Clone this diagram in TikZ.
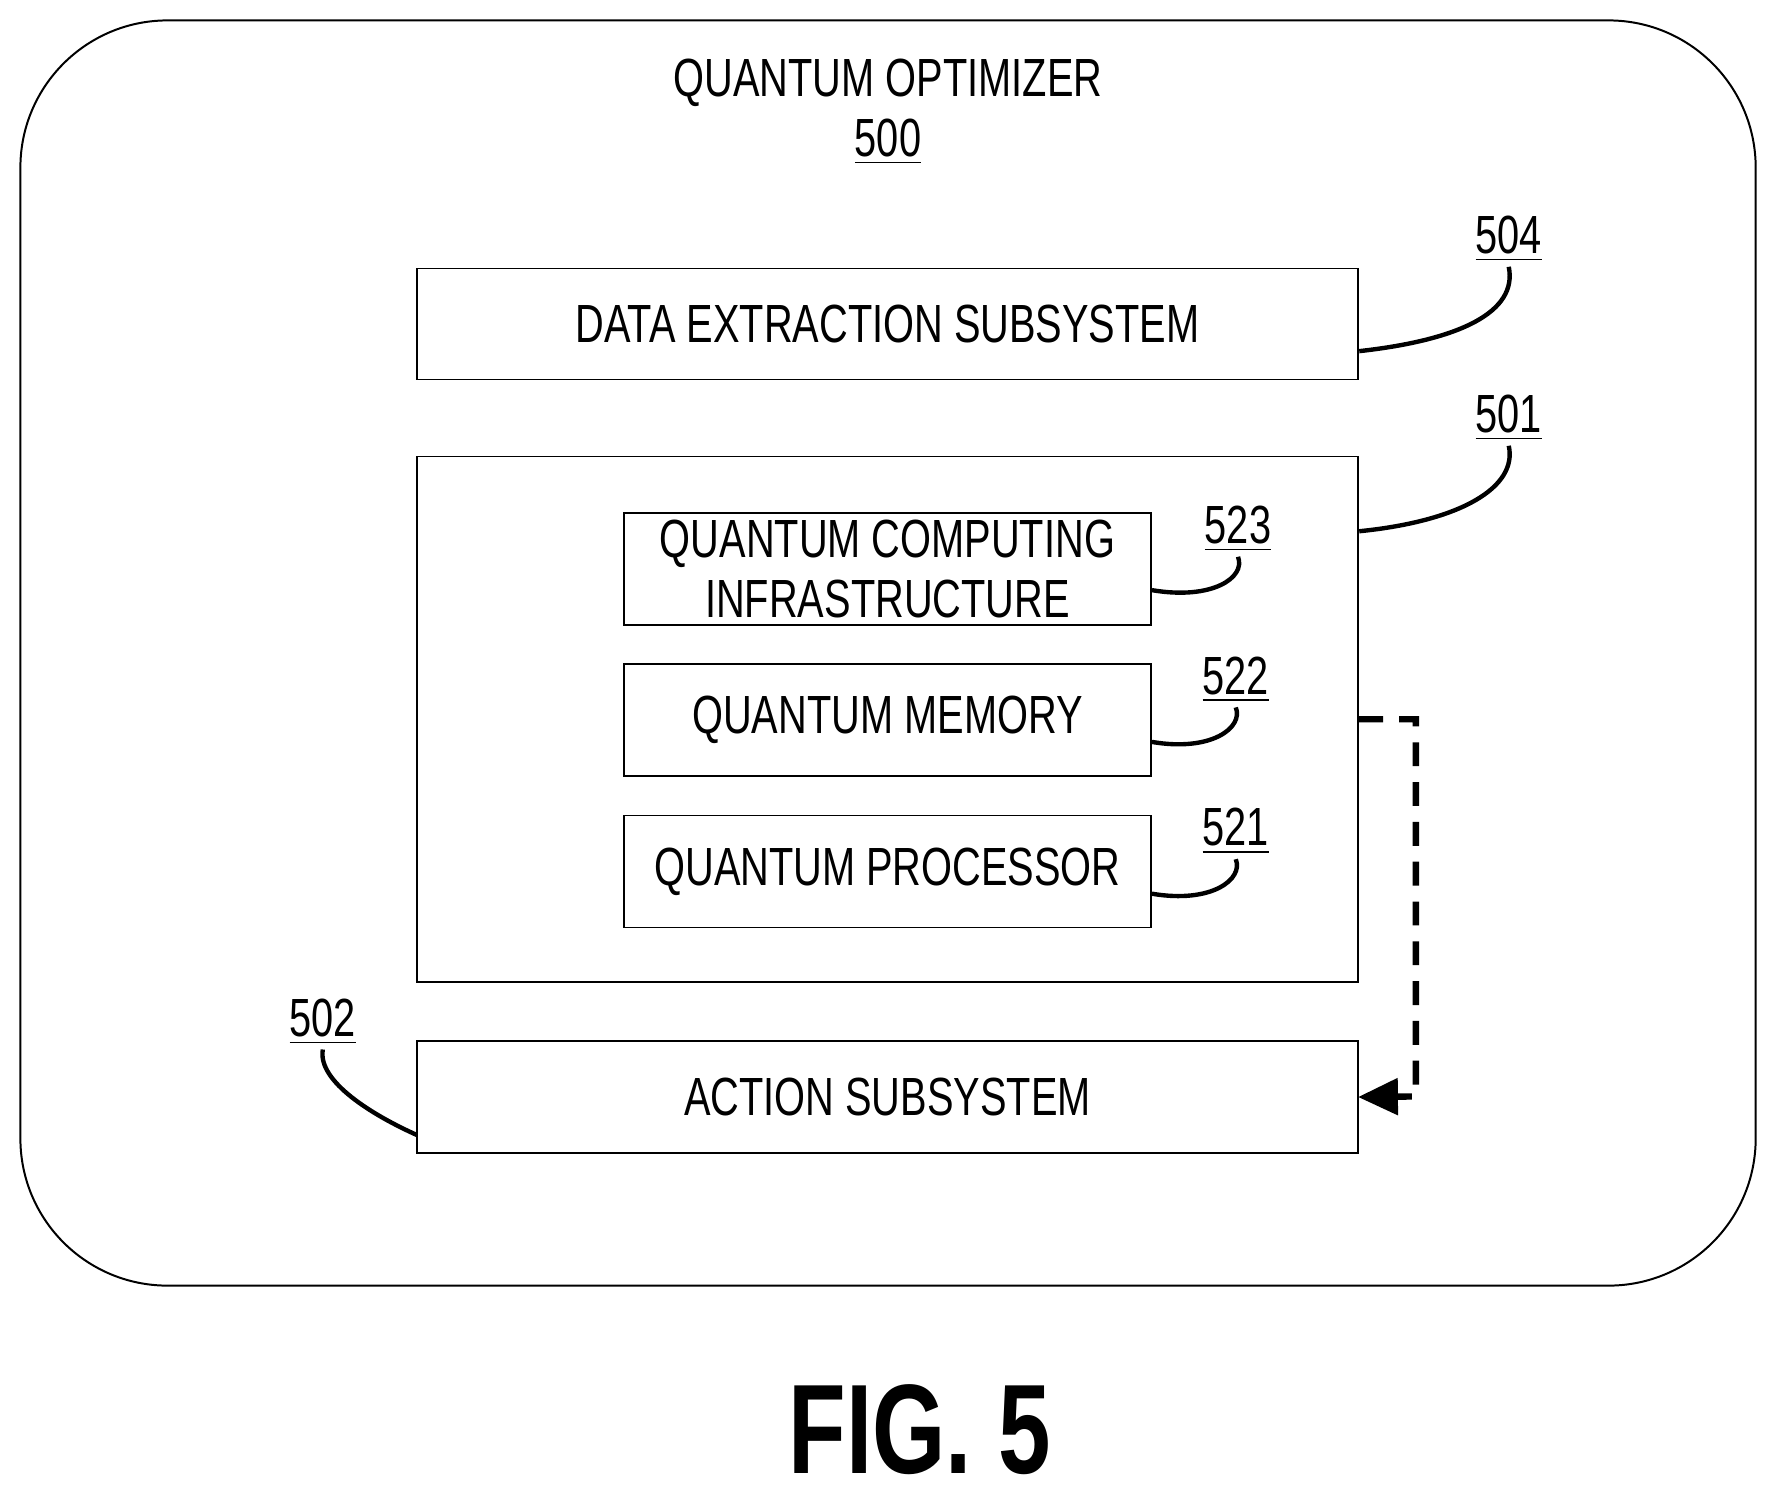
\documentclass[tikz,border=0pt]{standalone}
\usepackage{fontspec}
\setmainfont{Liberation Sans}[FakeStretch=0.74]
\usetikzlibrary{arrows.meta}
\begin{document}
\begin{tikzpicture}[x=0.1mm,y=-0.1mm,
  box/.style={draw,line width=0.4pt,inner sep=0pt,outer sep=0pt,font=\fontsize{13.5}{15}\selectfont,align=center},
  lbl/.style={font=\fontsize{13.5}{16}\selectfont,inner sep=1pt},
  lead/.style={line width=1.1pt}]
\useasboundingbox (0,0) rectangle (1560,1320);
\draw[line width=0.5pt,rounded corners=13mm] (18,18) rectangle (1550,1135);
\node[lbl,align=center,font=\fontsize{13.5}{15}\selectfont] (title) at (784,99) {QUANTUM OPTIMIZER\\\underline{500}};
\node[box,anchor=north west,minimum width=83.1mm,minimum height=9.8mm] (des) at (368,237) {DATA EXTRACTION SUBSYSTEM};
\node[box,anchor=north west,minimum width=83.1mm,minimum height=46.4mm] (big) at (368,403) {};
\node[box,anchor=north west,minimum width=46.5mm,minimum height=9.9mm] (qci) at (551,453) {QUANTUM COMPUTING\\INFRASTRUCTURE};
\node[box,anchor=north west,minimum width=46.5mm,minimum height=9.9mm] (qm) at (551,586) {QUANTUM MEMORY};
\node[box,anchor=north west,minimum width=46.5mm,minimum height=9.9mm] (qp) at (551,720) {QUANTUM PROCESSOR};
\node[box,anchor=north west,minimum width=83.1mm,minimum height=9.9mm] (act) at (368,919) {ACTION SUBSYSTEM};
\node[lbl] (l504) at (1332,211) {\underline{504}};
\node[lbl] (l501) at (1332,369) {\underline{501}};
\node[lbl] (l523) at (1093,467) {\underline{523}};
\node[lbl] (l522) at (1091,600) {\underline{522}};
\node[lbl] (l521) at (1091,734) {\underline{521}};
\node[lbl] (l502) at (285,902) {\underline{502}};
\coordinate (a504) at (1200,310); \coordinate (a501) at (1200,469);
\coordinate (a523) at (1017,521); \coordinate (a522) at (1017,655);
\coordinate (a521) at (1017,789); \coordinate (a502) at (368,1002);
\draw[lead] (a504) .. controls (1290,300) and (1340,275) .. (l504.south);
\draw[lead] (a501) .. controls (1290,460) and (1340,430) .. (l501.south);
\draw[lead] (a523) .. controls (1070,530) and (1100,510) .. (l523.south);
\draw[lead] (a522) .. controls (1070,664) and (1098,642) .. (l522.south);
\draw[lead] (a521) .. controls (1070,798) and (1098,776) .. (l521.south);
\draw[lead] (l502.south) .. controls (280,955) and (330,985) .. (a502);
\coordinate (d1) at (1200,635);
\draw[line width=1.6pt,dash pattern=on 6pt off 4pt,-{Triangle[length=10pt,width=9pt]}] (d1) -- (1250,635) -- (1250,968) -- (act.east);
\node[font=\bfseries\fontsize{32}{38}\selectfont] (fig) at (812,1262) {FIG. 5};
\end{tikzpicture}
\end{document}
